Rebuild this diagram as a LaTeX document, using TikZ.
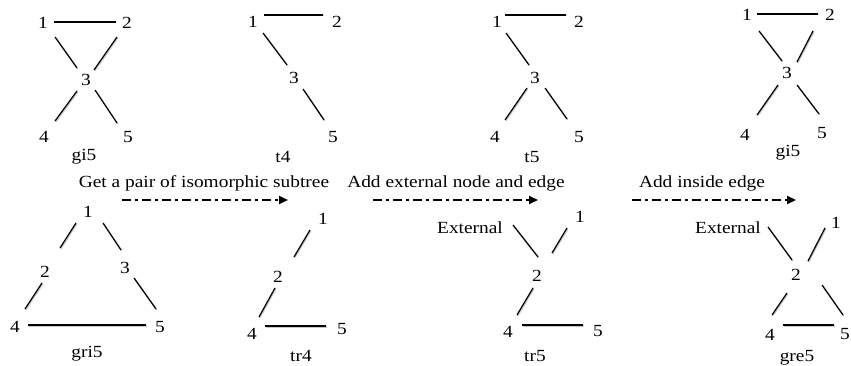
\documentclass[tikz,border=0pt]{standalone}
\usepackage{fontspec}
\setmainfont{Liberation Serif}[FakeStretch=1.14]
\usetikzlibrary{calc,arrows.meta}
\begin{document}
\begin{tikzpicture}[x=1pt,y=-1pt,
  lbl/.style={inner sep=0pt, font=\fontsize{17}{20}\selectfont},
  edge/.style={line width=1.2pt, black,
    preaction={draw=gray!45, line width=1.4pt, transform canvas={shift={(0.8pt,-0.8pt)}}}},
  flow/.style={line width=1.8pt, dash pattern=on 9pt off 4pt on 3pt off 4pt,
    -{Triangle[length=9pt,width=8pt]}}]
\useasboundingbox (0,0) rectangle (851,366);

% ---------- gi5 (top left) ----------
\node[lbl] (A1) at (43,23) {1};
\node[lbl] (A2) at (127,23) {2};
\node[lbl] (A3) at (86,80) {3};
\node[lbl] (A4) at (44,137) {4};
\node[lbl] (A5) at (128,137) {5};
\node[lbl] (Al) at (84,157) {gi5};
\draw[edge] ($(A1)+(11,-1)$) -- ($(A2)+(-11,-1)$);
\draw[edge] ($(A1)+(12,14)$) -- ($(A3)+(-9,-12)$);
\draw[edge] ($(A2)+(-10,14)$) -- ($(A3)+(8,-10)$);
\draw[edge] ($(A3)+(-9,11)$) -- ($(A4)+(11,-16)$);
\draw[edge] ($(A3)+(9,10)$) -- ($(A5)+(-11,-14)$);

% ---------- t4 ----------
\node[lbl] (B1) at (253,22) {1};
\node[lbl] (B2) at (337,22) {2};
\node[lbl] (B3) at (294,78) {3};
\node[lbl] (B5) at (333,137) {5};
\node[lbl] (Bl) at (283,157) {t4};
\draw[edge] ($(B1)+(11,-7)$) -- ($(B2)+(-14,-7)$);
\draw[edge] ($(B1)+(10,11)$) -- ($(B3)+(-7,-13)$);
\draw[edge] ($(B3)+(9,11)$) -- ($(B5)+(-9,-17)$);

% ---------- t5 ----------
\node[lbl] (C1) at (497,22) {1};
\node[lbl] (C2) at (579,22) {2};
\node[lbl] (C3) at (535,78) {3};
\node[lbl] (C4) at (495,137) {4};
\node[lbl] (C5) at (579,137) {5};
\node[lbl] (Cl) at (532,157) {t5};
\draw[edge] ($(C1)+(8,-7)$) -- ($(C2)+(-13,-7)$);
\draw[edge] ($(C1)+(9,11)$) -- ($(C3)+(-6,-13)$);
\draw[edge] ($(C3)+(-8,10)$) -- ($(C4)+(10,-17)$);
\draw[edge] ($(C3)+(10,10)$) -- ($(C5)+(-12,-18)$);

% ---------- gi5 (top right) ----------
\node[lbl] (D1) at (747,15) {1};
\node[lbl] (D2) at (830,15) {2};
\node[lbl] (D3) at (787,73) {3};
\node[lbl] (D4) at (745,135) {4};
\node[lbl] (D5) at (822,133) {5};
\node[lbl] (Dl) at (788,153) {gi5};
\draw[edge] ($(D1)+(10,-1)$) -- ($(D2)+(-12,-1)$);
\draw[edge] ($(D1)+(12,16)$) -- ($(D3)+(-5,-12)$);
\draw[edge] ($(D2)+(-17,16)$) -- ($(D3)+(10,-11)$);
\draw[edge] ($(D3)+(-9,12)$) -- ($(D4)+(12,-20)$);
\draw[edge] ($(D3)+(10,12)$) -- ($(D5)+(-3,-19)$);

% ---------- arrows and their texts ----------
\node[lbl] (T1) at (204,183) {Get a pair of isomorphic subtree};
\node[lbl] (T2) at (456,183) {Add external node and edge};
\node[lbl] (T3) at (702,183) {Add inside edge};
\coordinate (P1s) at (122,200); \coordinate (P1e) at (288,200);
\coordinate (P2s) at (373,200); \coordinate (P2e) at (538,200);
\coordinate (P3s) at (632,200); \coordinate (P3e) at (796,200);
\draw[flow] (P1s) -- (P1e);
\draw[flow] (P2s) -- (P2e);
\draw[flow] (P3s) -- (P3e);

% ---------- gri5 ----------
\node[lbl] (E1) at (88,212) {1};
\node[lbl] (E2) at (45,272) {2};
\node[lbl] (E3) at (125,268) {3};
\node[lbl] (E4) at (15,327) {4};
\node[lbl] (E5) at (160,327) {5};
\node[lbl] (El) at (87,354) {gri5};
\draw[edge] ($(E1)+(-12,11)$) -- ($(E2)+(15,-24)$);
\draw[edge] ($(E1)+(15,11)$) -- ($(E3)+(-4,-18)$);
\draw[edge] ($(E2)+(-3,11)$) -- ($(E4)+(10,-18)$);
\draw[edge] ($(E3)+(9,10)$) -- ($(E5)+(-4,-18)$);
\draw[edge] ($(E4)+(13,-2)$) -- ($(E5)+(-14,-2)$);

% ---------- tr4 ----------
\node[lbl] (F1) at (323,219) {1};
\node[lbl] (F2) at (278,277) {2};
\node[lbl] (F4) at (252,334) {4};
\node[lbl] (F5) at (342,329) {5};
\node[lbl] (Fl) at (301,356) {tr4};
\draw[edge] ($(F1)+(-13,11)$) -- ($(F2)+(16,-20)$);
\draw[edge] ($(F2)+(-3,11)$) -- ($(F4)+(7,-17)$);
\draw[edge] ($(F4)+(13,-8)$) -- ($(F5)+(-16,-3)$);

% ---------- tr5 ----------
\node[lbl] (Gx) at (470,228) {External};
\node[lbl] (G1) at (580,217) {1};
\node[lbl] (G2) at (537,276) {2};
\node[lbl] (G4) at (508,332) {4};
\node[lbl] (G5) at (598,331) {5};
\node[lbl] (Gl) at (535,356) {tr5};
\draw[edge] ($(Gx)+(43,-3)$) -- ($(G2)+(1,-19)$);
\draw[edge] ($(G1)+(-13,11)$) -- ($(G2)+(15,-23)$);
\draw[edge] ($(G2)+(-4,12)$) -- ($(G4)+(9,-17)$);
\draw[edge] ($(G4)+(14,-7)$) -- ($(G5)+(-15,-6)$);

% ---------- gre5 ----------
\node[lbl] (Hx) at (728,228) {External};
\node[lbl] (H1) at (836,223) {1};
\node[lbl] (H2) at (796,275) {2};
\node[lbl] (H4) at (770,335) {4};
\node[lbl] (H5) at (845,334) {5};
\node[lbl] (Hl) at (797,358) {gre5};
\draw[edge] ($(Hx)+(40,-1)$) -- ($(H2)+(-4,-15)$);
\draw[edge] ($(H1)+(-11,5)$) -- ($(H2)+(12,-14)$);
\draw[edge] ($(H2)+(-9,18)$) -- ($(H4)+(2,-20)$);
\draw[edge] ($(H2)+(26,10)$) -- ($(H5)+(-2,-19)$);
\draw[edge] ($(H4)+(13,-10)$) -- ($(H5)+(-11,-9)$);
\end{tikzpicture}
\end{document}
